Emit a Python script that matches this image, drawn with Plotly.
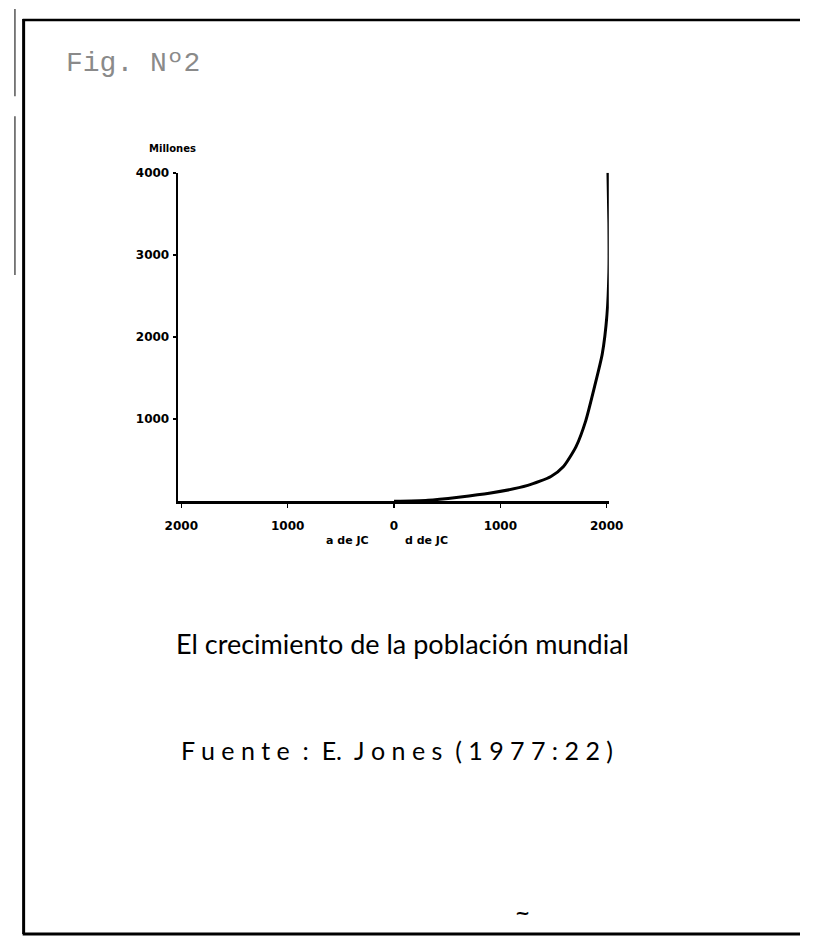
import plotly.graph_objects as go

# Data (years, population in millions)
years = [0, 320, 895, 1258, 1476, 1594, 1712, 1803, 1885, 1958, 2003, 2021, 2021, 2012]
population = [0, 12, 97, 193, 302, 423, 665, 979, 1390, 1789, 2272, 2792, 3396, 4000]

x_tickvals = [-2000, -1000, 0, 1000, 2000]
x_ticktext = ["2000", "1000", "0", "1000", "2000"]
y_tickvals = [1000, 2000, 3000, 4000]
y_ticktext = ["1000", "2000", "3000", "4000"]

W, H = 815, 938
def px(x):
    return x / W
def py(y):
    return 1 - y / H

fig = go.Figure()
fig.add_trace(go.Scatter(
    x=years, y=population, mode="lines",
    line=dict(color="black", width=3, shape="spline", smoothing=0.6),
    showlegend=False, hoverinfo="skip",
))

tickfont = dict(family="DejaVu Sans", size=12, color="black", weight="bold")

fig.update_layout(
    width=W, height=H,
    margin=dict(l=0, r=0, t=0, b=0),
    paper_bgcolor="white", plot_bgcolor="white",
    xaxis=dict(
        domain=[px(171), px(617)], range=[-2030, 2020],
        showgrid=False, zeroline=False, showline=True, linecolor="black", linewidth=2.5,
        tickvals=x_tickvals, ticktext=x_ticktext, ticks="outside", ticklen=4,
        tickwidth=1.5, tickcolor="black", tickfont=tickfont, ticklabelstandoff=8,
        fixedrange=True,
    ),
    yaxis=dict(
        domain=[py(498), py(167)], range=[0, 4000],
        showgrid=False, zeroline=False, showline=True, linecolor="black", linewidth=2.5,
        tickvals=y_tickvals, ticktext=y_ticktext, ticks="outside", ticklen=3,
        tickwidth=1.5, tickcolor="black", tickfont=tickfont, ticklabelstandoff=1,
        fixedrange=True,
    ),
)

# frame of the page
frame = dict(color="black", width=3)
fig.add_shape(type="line", xref="paper", yref="paper", x0=px(11), x1=px(11), y0=py(12), y1=py(934), line=frame)
fig.add_shape(type="line", xref="paper", yref="paper", x0=px(10), x1=px(815), y0=py(13), y1=py(13), line=dict(color="black", width=2.5))
fig.add_shape(type="line", xref="paper", yref="paper", x0=px(10), x1=px(815), y0=py(934), y1=py(934), line=frame)
# scan edge at far left
fig.add_shape(type="line", xref="paper", yref="paper", x0=px(2), x1=px(2), y0=py(2), y1=py(90), line=dict(color="#555", width=1.5))
fig.add_shape(type="line", xref="paper", yref="paper", x0=px(2), x1=px(2), y0=py(110), y1=py(270), line=dict(color="#555", width=1.5))

def note(text, x, y, size, family="Lato", color="black", xanchor="center", weight="normal"):
    fig.add_annotation(text=text, xref="paper", yref="paper", x=px(x), y=py(y),
                       xanchor=xanchor, yanchor="middle", showarrow=False,
                       font=dict(family=family, size=size, color=color, weight=weight))

note("Fig. Nº2", 53, 57, 28, family="Liberation Mono", color="#8a8a8a", xanchor="left")
note("Millones", 165, 143, 10, family="DejaVu Sans", weight="bold")
note("a de JC", 346, 538, 11, family="DejaVu Sans", weight="bold")
note("d de JC", 428, 538, 11, family="DejaVu Sans", weight="bold")
note("El crecimiento de la población mundial", 167, 641, 27, xanchor="left")
note("F u e n t e  :  E.  J o n e s  ( 1 9 7 7 : 2 2 )", 172, 749, 25, xanchor="left")
note("~", 528, 912, 18, family="DejaVu Sans", weight="bold")

fig.write_html(
    "out.html",
    config={"displayModeBar": False, "staticPlot": True},
    post_script="document.body.style.margin='0';document.body.style.overflow='hidden';",
)
